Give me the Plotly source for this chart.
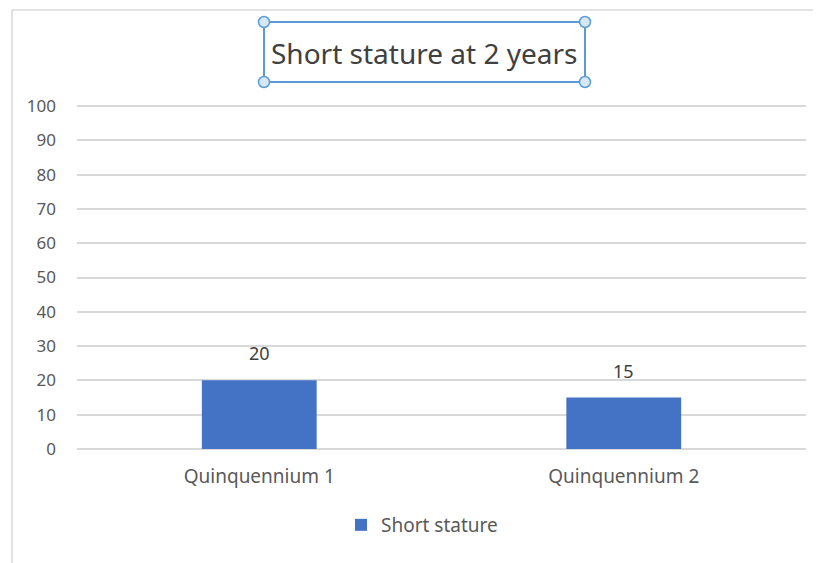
import plotly.graph_objects as go

categories = ["Quinquennium 1", "Quinquennium 2"]
values = [20, 15]
series_name = "Short stature"
title_text = "Short stature at 2 years"
y_ticks = list(range(0, 101, 10))

# page has an 8px body margin; work in reference-screen pixels and convert
OFF = 8
PAD = 0.6  # axis padding (data units) so the 0 and 100 gridlines are drawn
W, H = 821 - OFF, 563 - OFF
top_px, bot_px = 106, 449
upp = (bot_px - top_px) / 100.0
L, R = 77 - OFF, 821 - 806
T = round(top_px - OFF - PAD * upp)
B = round(563 - bot_px - PAD * upp)
pw = W - L - R
ph = H - T - B

def px(x):
    return (x - OFF - L) / pw

def py(y):
    return (H - B - (y - OFF)) / ph

fig = go.Figure()
fig.add_trace(go.Bar(
    x=categories, y=values, name=series_name,
    marker=dict(color="#4472C4", line=dict(width=0)),
    width=0.315,
    showlegend=True,
))

grey = "#d9d9d9"
blue = "#5B9BD5"
shapes = [
    dict(type="line", xref="paper", yref="paper", x0=px(12), x1=px(821), y0=py(10), y1=py(10),
         line=dict(color=grey, width=1.5)),
    dict(type="line", xref="paper", yref="paper", x0=px(12), x1=px(12), y0=py(10), y1=py(563),
         line=dict(color=grey, width=1.5)),
    dict(type="rect", xref="paper", yref="paper", x0=px(264), x1=px(585), y0=py(22), y1=py(82),
         line=dict(color=blue, width=2), fillcolor="rgba(0,0,0,0)"),
]
for cx, cy in [(264, 22), (585, 22), (264, 82), (585, 82)]:
    shapes.append(dict(type="circle", xref="paper", yref="paper",
                       xsizemode="pixel", ysizemode="pixel",
                       xanchor=px(cx), yanchor=py(cy),
                       x0=-5.5, x1=5.5, y0=-5.5, y1=5.5,
                       line=dict(color=blue, width=1.5), fillcolor="#d6e8f8"))

annotations = [dict(text=title_text, xref="paper", yref="paper", x=px(424), y=py(53),
                    xanchor="center", yanchor="middle", showarrow=False,
                    font=dict(size=28, color="#404040", family="Noto Sans"))]
for c, v in zip(categories, values):
    annotations.append(dict(text=str(v), x=c, y=v, xref="x", yref="y", showarrow=False,
                            xanchor="center", yanchor="bottom", yshift=13,
                            font=dict(size=18, color="#404040", family="Noto Sans")))

fig.update_layout(
    width=W, height=H,
    margin=dict(l=L, r=R, t=T, b=B),
    paper_bgcolor="white", plot_bgcolor="white",
    font=dict(family="Noto Sans", color="#595959", size=18),
    shapes=shapes,
    annotations=annotations,
    legend=dict(orientation="h", x=px(422), xanchor="center", y=py(525), yanchor="middle",
                font=dict(size=19, color="#595959"), itemwidth=30),
    xaxis=dict(showgrid=False, showline=False, ticks="", ticklabelstandoff=12,
               tickfont=dict(size=19, color="#595959")),
    yaxis=dict(range=[-PAD, 100 + PAD], tickvals=y_ticks, showgrid=True, gridcolor=grey, gridwidth=1.5,
               zeroline=False, showline=False, ticks="", ticklabelstandoff=20,
               tickfont=dict(size=17, color="#595959")),
)

fig.write_html("out.html")
